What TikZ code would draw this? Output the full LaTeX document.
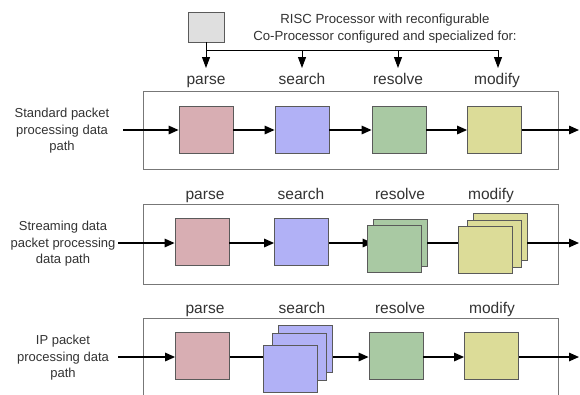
\documentclass[tikz,border=0pt]{standalone}
\usepackage{fontspec}
\setmainfont{Liberation Sans}
\usetikzlibrary{arrows.meta}
\definecolor{parsecol}{HTML}{D8AEB3}
\definecolor{searchcol}{HTML}{B1B1F6}
\definecolor{resolvecol}{HTML}{A9C9A3}
\definecolor{modifycol}{HTML}{DCDC98}
\definecolor{edgecol}{HTML}{5A5A5A}
\definecolor{framecol}{HTML}{777777}
\definecolor{textcol}{HTML}{333333}
\begin{document}
\begin{tikzpicture}[x=1pt,y=-1pt,
  stagebox/.style={draw=edgecol, line width=0.8pt, minimum width=54pt, minimum height=47pt, inner sep=0pt},
  parsebox/.style={stagebox, fill=parsecol},
  searchbox/.style={stagebox, fill=searchcol},
  resolvebox/.style={stagebox, fill=resolvecol},
  modifybox/.style={stagebox, fill=modifycol},
  framebox/.style={draw=framecol, line width=0.8pt},
  flow/.style={line width=1.5pt, -{Triangle[length=10pt,width=8.5pt]}},
  feed/.style={line width=0.9pt, -{Triangle[length=11pt,width=8pt]}},
  stagelabel/.style={text=textcol, font=\fontsize{15.5}{18}\selectfont, inner sep=1pt, anchor=base},
  rowlabel/.style={text=textcol, font=\fontsize{13}{16.5}\selectfont, align=center, inner sep=0pt},
  toptext/.style={text=textcol, font=\fontsize{13.2}{17}\selectfont, align=center, inner sep=0pt}
]
\clip (0,0) rectangle (580,394);
\fill[white] (0,0) rectangle (580,394);

% RISC processor and its feed bus
\node[draw=edgecol, fill=gray!25, line width=0.8pt, minimum width=36pt, minimum height=30pt, inner sep=0pt] (cpu) at (206,27) {};
\node[toptext] (title) at (385,28.5) {RISC Processor with reconfigurable\\Co-Processor configured and specialized for:};
\coordinate (busL) at (206,50);
\coordinate (busS) at (302,50);
\coordinate (busV) at (398,50);
\coordinate (busR) at (498,50);
\coordinate (tipP) at (206,68);
\coordinate (tipS) at (302,68);
\coordinate (tipV) at (398,68);
\coordinate (tipM) at (498,68);
\draw[line width=0.9pt] (cpu.south) -- (busL) -- (busR);
\draw[feed] (busL) -- (tipP);
\draw[feed] (busS) -- (tipS);
\draw[feed] (busV) -- (tipV);
\draw[feed] (busR) -- (tipM);

% ---------- row 1: standard packet path ----------
\node[stagelabel] (l1p) at (206,84.5) {parse};
\node[stagelabel] (l1s) at (302,84.5) {search};
\node[stagelabel] (l1r) at (398,84.5) {resolve};
\node[stagelabel] (l1m) at (497,84.5) {modify};
\draw[framebox] (143,91) rectangle (558,169);
\node[rowlabel] (r1) at (62,131) {Standard packet\\processing data\\path};
\node[parsebox] (p1) at (206,130) {};
\node[searchbox] (s1) at (302,130) {};
\node[resolvebox] (v1) at (399,130) {};
\node[modifybox] (m1) at (494.5,130) {};
\coordinate (in1) at (123,130);
\coordinate (out1) at (579,130);
\draw[flow] (in1) -- (p1);
\draw[flow] (p1) -- (s1);
\draw[flow] (s1) -- (v1);
\draw[flow] (v1) -- (m1);
\draw[flow] (m1) -- (out1);

% ---------- row 2: streaming data path ----------
\node[stagelabel] (l2p) at (205,199) {parse};
\node[stagelabel] (l2s) at (301,199) {search};
\node[stagelabel] (l2r) at (400,199) {resolve};
\node[stagelabel] (l2m) at (491,199) {modify};
\draw[framebox] (143,204) rectangle (558,284);
\node[rowlabel] (r2) at (63,244) {Streaming data\\packet processing\\data path};
\coordinate (a2) at (0,243);
\coordinate (in2) at (118,243);
\coordinate (out2) at (579,243);
\node[parsebox] (p2) at (202,242) {};
\node[searchbox] (s2) at (301.5,242) {};
\node[resolvebox] (v2b) at (400,242.5) {};
\node[modifybox] (m2b) at (500,236.5) {};
\draw[flow] (in2) -- (p2.west |- a2);
\draw[flow] (p2.east |- a2) -- (s2.west |- a2);
\draw[flow] (s2.east |- a2) -- (v2b.west |- a2);
\draw[flow] (v2b.east |- a2) -- (m2b.west |- a2);
\draw[flow] (m2b.east |- a2) -- (out2);
\node[resolvebox] (v2) at (394,248.5) {};
\node[modifybox] (m2c) at (494,243.5) {};
\node[modifybox] (m2) at (485.5,250) {};

% ---------- row 3: IP packet path ----------
\node[stagelabel] (l3p) at (205,313) {parse};
\node[stagelabel] (l3s) at (302,313) {search};
\node[stagelabel] (l3r) at (400,313) {resolve};
\node[stagelabel] (l3m) at (492,313) {modify};
\draw[framebox] (143,318) rectangle (558,402);
\node[rowlabel] (r3) at (63,358) {IP packet\\processing data\\path};
\coordinate (a3) at (0,357);
\coordinate (in3) at (118,357);
\coordinate (out3) at (579,357);
\node[parsebox] (p3) at (202.5,355.5) {};
\node[searchbox] (s3b) at (305.5,348.5) {};
\node[resolvebox] (v3) at (396,355.5) {};
\node[modifybox] (m3) at (491.5,355.5) {};
\draw[flow] (in3) -- (p3.west |- a3);
\draw[flow] (p3.east |- a3) -- (s3b.west |- a3);
\draw[flow] (s3b.east |- a3) -- (v3.west |- a3);
\draw[flow] (v3.east |- a3) -- (m3.west |- a3);
\draw[flow] (m3.east |- a3) -- (out3);
\node[searchbox] (s3c) at (299,356.5) {};
\node[searchbox] (s3) at (290.5,368.5) {};
\end{tikzpicture}
\end{document}
